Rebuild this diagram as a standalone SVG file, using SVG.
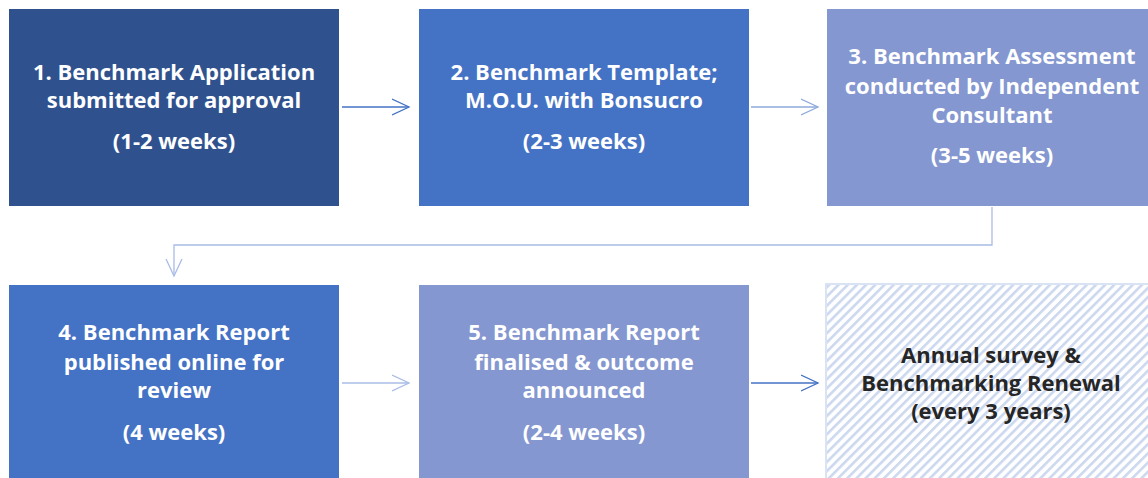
<svg xmlns="http://www.w3.org/2000/svg" width="1148" height="478" viewBox="0 0 1148 478">
<style>
.t{font-family:"Open Sans","Liberation Sans",sans-serif;font-weight:700;font-size:22px;fill:#ffffff;text-anchor:middle}
.d{fill:#262626}
.c{fill:none;stroke-width:1.3}
</style>
<defs>
<pattern id="hatch" patternUnits="userSpaceOnUse" width="6.5" height="6.5" patternTransform="rotate(45)">
<rect width="6.5" height="6.5" fill="#ffffff"/>
<rect x="0" y="0" width="2.6" height="6.5" fill="#CCD8EF"/>
</pattern>
<marker id="ah" markerWidth="20" markerHeight="20" refX="17" refY="9" orient="auto" markerUnits="userSpaceOnUse">
<path d="M0,1 L17,9 L0,17" fill="none" stroke="context-stroke" stroke-width="1.3"/>
</marker>
</defs>
<rect width="1148" height="478" fill="#ffffff"/>
<g id="node1"><rect x="9" y="9" width="330" height="197" fill="#2F528F"/>
<text class="t" x="174" y="80">1. Benchmark Application</text>
<text class="t" x="174" y="108">submitted for approval</text>
<text class="t" x="174" y="149">(1-2 weeks)</text></g>
<g id="node2"><rect x="419" y="9" width="330" height="197" fill="#4472C4"/>
<text class="t" x="584" y="80">2. Benchmark Template;</text>
<text class="t" x="584" y="108">M.O.U. with Bonsucro</text>
<text class="t" x="584" y="149">(2-3 weeks)</text></g>
<g id="node3"><rect x="827" y="9" width="330" height="197" fill="#8497D0"/>
<text class="t" x="992" y="64">3. Benchmark Assessment</text>
<text class="t" x="992" y="94">conducted by Independent</text>
<text class="t" x="992" y="123">Consultant</text>
<text class="t" x="992" y="163">(3-5 weeks)</text></g>
<g id="node4"><rect x="9" y="285" width="330" height="197" fill="#4472C4"/>
<text class="t" x="174" y="340">4. Benchmark Report</text>
<text class="t" x="174" y="370">published online for</text>
<text class="t" x="174" y="398">review</text>
<text class="t" x="174" y="440">(4 weeks)</text></g>
<g id="node5"><rect x="419" y="285" width="330" height="197" fill="#8497D0"/>
<text class="t" x="584" y="340">5. Benchmark Report</text>
<text class="t" x="584" y="370">finalised &amp; outcome</text>
<text class="t" x="584" y="398">announced</text>
<text class="t" x="584" y="440">(2-4 weeks)</text></g>
<g id="node6"><rect x="826" y="284" width="330" height="197" fill="url(#hatch)" stroke="#DAE3F3" stroke-width="2"/>
<text class="t d" x="991" y="363">Annual survey &amp;</text>
<text class="t d" x="991" y="391">Benchmarking Renewal</text>
<text class="t d" x="991" y="419">(every 3 years)</text></g>
<g id="connectors">
<path class="c" d="M342,107 H409" stroke="#4472C4" marker-end="url(#ah)"/>
<path class="c" d="M751,107 H818" stroke="#8FAADC" marker-end="url(#ah)"/>
<path class="c" d="M992,207 V245 H174 V276" stroke="#A9BCE6" marker-end="url(#ah)"/>
<path class="c" d="M342,383 H409" stroke="#A9BCE6" marker-end="url(#ah)"/>
<path class="c" d="M751,383 H818" stroke="#4472C4" marker-end="url(#ah)"/>
</g>
</svg>
